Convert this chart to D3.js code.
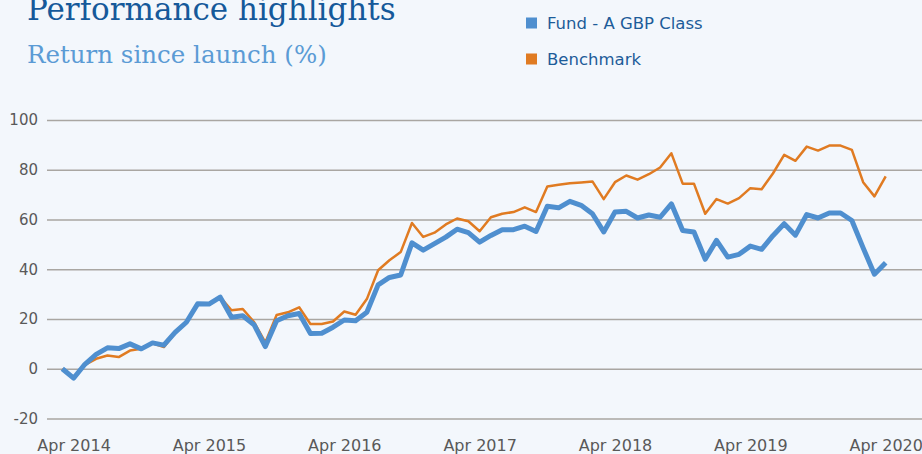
<!DOCTYPE html>
<html>
<head>
<meta charset="utf-8">
<script src="https://cdn.jsdelivr.net/npm/d3@7"></script>
<style>
  html, body { margin: 0; padding: 0; background: #f3f7fc; }
  svg { display: block; }
</style>
</head>
<body>
<div id="chart"></div>
<script>
// Chart Data (return since launch, %)
const months = d3.timeMonth.range(new Date(2014, 2, 1), new Date(2020, 4, 1)).map(d3.timeFormat("%b %Y"));
const fund = [0, -3.8, 1.8, 5.8, 8.4, 8.1, 10, 8, 10.4, 9.5, 14.6, 18.7, 26.1, 26, 28.8, 20.7, 21.3, 17.7, 8.9, 19.3,
  21.3, 22.2, 14.2, 14.3, 16.7, 19.6, 19.3, 22.7, 33.7, 36.7, 37.7, 50.6, 47.7, 50.3, 52.9, 56.1, 54.7, 50.9, 53.6, 55.9,
  55.9, 57.3, 55.2, 65.3, 64.7, 67.3, 65.7, 62.3, 55, 63, 63.3, 60.6, 61.8, 60.9, 66.3, 55.6, 55, 44, 51.6, 44.9,
  46, 49.3, 48, 53.5, 58.3, 53.7, 62, 60.6, 62.6, 62.6, 59.6, 48.6, 38, 42.6];
const benchmark = [0, -3.6, 1.5, 4, 5.3, 4.7, 7.3, 8, 10.2, 8.7, 14.4, 18.7, 26.1, 26, 28.8, 23.5, 24, 18.8, 10.6, 21.6,
  22.7, 24.7, 18, 18, 19, 23, 21.7, 28, 39.6, 43.6, 46.9, 58.6, 53, 54.7, 58, 60.4, 59.3, 55.3, 60.9, 62.3,
  63, 64.9, 63, 73.3, 74, 74.6, 74.9, 75.3, 68.2, 75, 77.7, 76, 78.2, 80.9, 86.6, 74.4, 74.4, 62.3, 68.2, 66.4,
  68.6, 72.6, 72.2, 78.5, 86, 83.6, 89.3, 87.7, 89.7, 89.7, 88, 75, 69.3, 77.3];
const yTicks = [-20, 0, 20, 40, 60, 80, 100];
const xTickLabels = ["Apr 2014", "Apr 2015", "Apr 2016", "Apr 2017", "Apr 2018", "Apr 2019", "Apr 2020"];
const seriesNames = ["Fund - A GBP Class", "Benchmark"];
const seriesColors = ["#4f8fcf", "#e07b22"];

// Dimensions
const w = 922, h = 454;
const svg = d3.select("#chart").append("svg").attr("width", w).attr("height", h);
svg.append("rect").attr("width", w).attr("height", h).attr("fill", "#f3f7fc");

// Scales
const x = d3.scalePoint().domain(months).range([62.3, 885.7]);
const y = d3.scaleLinear().domain([-20, 100]).range([418.5, 120]);

// Gridlines & Y Axis (plain hyphen for negatives, as in the source)
const yAxis = svg.append("g").attr("transform", "translate(47,0)")
  .call(d3.axisLeft(y).tickValues(yTicks).tickFormat((d) => String(d))
    .tickSizeInner(-(w - 47)).tickSizeOuter(0).tickPadding(9));
yAxis.select(".domain").remove();
yAxis.selectAll("line").attr("stroke", "#a9a6a2").attr("stroke-width", 1.5);
yAxis.selectAll("text").attr("fill", "#595959").style("font-family", "DejaVu Sans").style("font-size", "15px");

// X Axis
const xAxis = svg.append("g").attr("transform", "translate(0," + y(-20) + ")")
  .call(d3.axisBottom(x).tickValues(xTickLabels).tickSize(0).tickPadding(21));
xAxis.select(".domain").remove();
xAxis.selectAll("text").attr("fill", "#595959").style("font-family", "DejaVu Sans").style("font-size", "16px");

// Lines
const line = d3.line().x((d, i) => x(months[i])).y((d) => y(d));
svg.append("path").datum(benchmark).attr("d", line).attr("fill", "none")
  .attr("stroke", seriesColors[1]).attr("stroke-width", 2.5).attr("stroke-linejoin", "round");
svg.append("path").datum(fund).attr("d", line).attr("fill", "none")
  .attr("stroke", seriesColors[0]).attr("stroke-width", 5).attr("stroke-linejoin", "round");

// Title (cropped at the top edge in the source image)
svg.append("text").text("Performance highlights").attr("x", 27).attr("y", 20)
  .attr("fill", "#15599a").style("font-family", "DejaVu Serif").style("font-size", "31px");
svg.append("text").text("Return since launch (%)").attr("x", 27).attr("y", 63)
  .attr("fill", "#5b9bd5").style("font-family", "DejaVu Serif").style("font-size", "24.5px");

// Legend
for (let i = 0; i < seriesNames.length; i++) {
  let ly = 17.5 + i * 36;
  svg.append("rect").attr("x", 526).attr("y", ly).attr("width", 11).attr("height", 11).attr("fill", seriesColors[i]);
  svg.append("text").text(seriesNames[i]).attr("x", 547).attr("y", ly + 11.5)
    .attr("fill", "#1d5c99").style("font-family", "DejaVu Sans").style("font-size", "16.5px");
}
</script>
</body>
</html>
